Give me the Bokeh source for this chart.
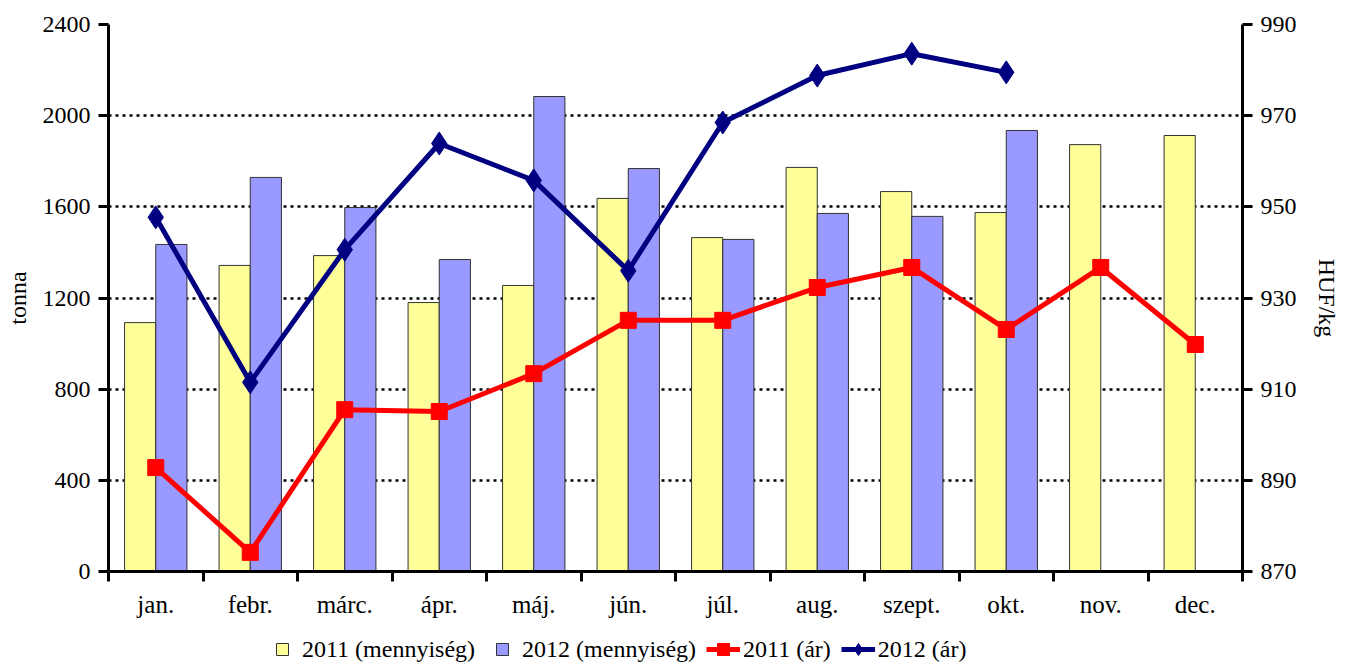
import numpy as np
from bokeh.plotting import figure
from bokeh.layouts import column
from bokeh.models import Range1d, LinearAxis, FixedTicker, Legend, LegendItem, ColumnDataSource
from bokeh.embed import file_html
from bokeh.resources import INLINE

months = ["jan.", "febr.", "márc.", "ápr.", "máj.", "jún.", "júl.", "aug.", "szept.", "okt.", "nov.", "dec."]
qty_2011 = [1092, 1343, 1386, 1180, 1255, 1637, 1465, 1773, 1667, 1575, 1873, 1913]
qty_2012 = [1435, 1729, 1597, 1369, 2084, 1768, 1457, 1571, 1558, 1935]
price_2011 = [892.8, 874.2, 905.5, 905.1, 913.4, 925.1, 925.1, 932.3, 936.7, 923.1, 936.7, 919.8]
price_2012 = [947.7, 911.5, 940.6, 963.9, 955.8, 936.0, 968.5, 978.8, 983.6, 979.5]
left_ticks = [0, 400, 800, 1200, 1600, 2000, 2400]
right_ticks = [870, 890, 910, 930, 950, 970, 990]
legend_labels = ["2011 (mennyiség)", "2012 (mennyiség)", "2011 (ár)", "2012 (ár)"]

FONT = "Liberation Serif"
YELLOW, VIOLET, RED, NAVY = "#FFFF99", "#9999FF", "#FF0000", "#000080"
centers = np.arange(len(months)) + 0.5
bw = 0.33

p = figure(frame_width=1134, frame_height=547, output_backend="svg", toolbar_location=None,
           x_range=Range1d(0, 12), y_range=Range1d(0, 2400),
           min_border_left=108, min_border_right=20, min_border_top=24, min_border_bottom=0)
p.outline_line_color = None
p.background_fill_color = "white"
p.extra_y_ranges = {"price": Range1d(870, 990)}

src11 = ColumnDataSource(dict(x=centers - bw / 2, top=qty_2011))
src12 = ColumnDataSource(dict(x=centers[:len(qty_2012)] + bw / 2, top=qty_2012))
p.vbar(x="x", top="top", width=bw, source=src11, fill_color=YELLOW, line_color="#333333", line_width=1)
p.vbar(x="x", top="top", width=bw, source=src12, fill_color=VIOLET, line_color="#333333", line_width=1)

p.line(centers, price_2011, y_range_name="price", line_color=RED, line_width=5)
p.scatter(centers, price_2011, y_range_name="price", marker="square", size=16, fill_color=RED, line_color=RED)
p.line(centers[:len(price_2012)], price_2012, y_range_name="price", line_color=NAVY, line_width=5)
p.scatter(centers[:len(price_2012)], price_2012, y_range_name="price", marker="diamond", size=23, fill_color=NAVY, line_color=NAVY)

# grid
p.xgrid.visible = False
p.ygrid.ticker = FixedTicker(ticks=left_ticks)
p.ygrid.grid_line_color = "black"
p.ygrid.grid_line_dash = "3 4"
p.ygrid.grid_line_width = 2.5

def style_axis(ax):
    ax.axis_line_width = 3
    ax.axis_line_color = "black"
    ax.major_tick_line_width = 3
    ax.major_tick_out = 10
    ax.major_tick_in = 0
    ax.minor_tick_line_color = None
    ax.major_label_text_font = FONT
    ax.major_label_text_font_size = "24px"
    ax.major_label_text_color = "black"
    ax.axis_label_text_font = FONT
    ax.axis_label_text_font_size = "24px"
    ax.axis_label_text_font_style = "normal"
    ax.axis_label_text_color = "black"

xa = p.xaxis[0]
style_axis(xa)
xa.ticker = FixedTicker(ticks=list(centers), minor_ticks=list(range(13)))
xa.major_label_overrides = {float(c): m for c, m in zip(centers, months)}
xa.major_tick_line_color = None
xa.minor_tick_line_color = "black"
xa.minor_tick_line_width = 3
xa.minor_tick_out = 10
xa.minor_tick_in = 0
xa.major_label_standoff = 9
xa.major_label_text_font_size = "25px"

ya = p.yaxis[0]
style_axis(ya)
ya.ticker = FixedTicker(ticks=left_ticks)
ya.axis_label = "tonna"
ya.major_label_standoff = 8
ya.axis_label_standoff = 9

ra = LinearAxis(y_range_name="price", ticker=FixedTicker(ticks=right_ticks), axis_label="HUF/kg")
style_axis(ra)
ra.major_label_standoff = 8
ra.axis_label_standoff = 14
p.add_layout(ra, "right")

# legend strip (separate figure; swatch renderers hold a single NaN row so nothing is plotted)
lf = figure(width=1340, height=44, output_backend="svg", toolbar_location=None,
            x_range=Range1d(0, 1), y_range=Range1d(0, 1), x_axis_type=None, y_axis_type=None,
            min_border=0)
lf.outline_line_color = None
lf.xgrid.visible = False
lf.ygrid.visible = False
nan_src = ColumnDataSource(dict(x=[float("nan")], y=[float("nan")]))
s11 = lf.scatter("x", "y", source=nan_src, marker="square", fill_color=YELLOW, line_color="#333333", line_width=1)
s12 = lf.scatter("x", "y", source=nan_src, marker="square", fill_color=VIOLET, line_color="#333333", line_width=1)
r1 = lf.line("x", "y", source=nan_src, line_color=RED, line_width=5)
r2 = lf.scatter("x", "y", source=nan_src, marker="square", fill_color=RED, line_color=RED)
n1 = lf.line("x", "y", source=nan_src, line_color=NAVY, line_width=5)
n2 = lf.scatter("x", "y", source=nan_src, marker="diamond", fill_color=NAVY, line_color=NAVY)

legend = Legend(items=[
    LegendItem(label=legend_labels[0], renderers=[s11]),
    LegendItem(label=legend_labels[1], renderers=[s12]),
    LegendItem(label=legend_labels[2], renderers=[r1, r2]),
    LegendItem(label=legend_labels[3], renderers=[n1, n2]),
], orientation="horizontal", location=(157, 0))
legend.label_text_font = FONT
legend.label_text_font_size = "24px"
legend.label_text_color = "black"
legend.border_line_color = None
legend.background_fill_alpha = 0
legend.glyph_width = 34
legend.glyph_height = 30
legend.label_standoff = 3
legend.spacing = 10
legend.padding = 0
legend.margin = 0
lf.add_layout(legend)

open("out.html", "w").write(file_html(column(p, lf, spacing=0), INLINE))
